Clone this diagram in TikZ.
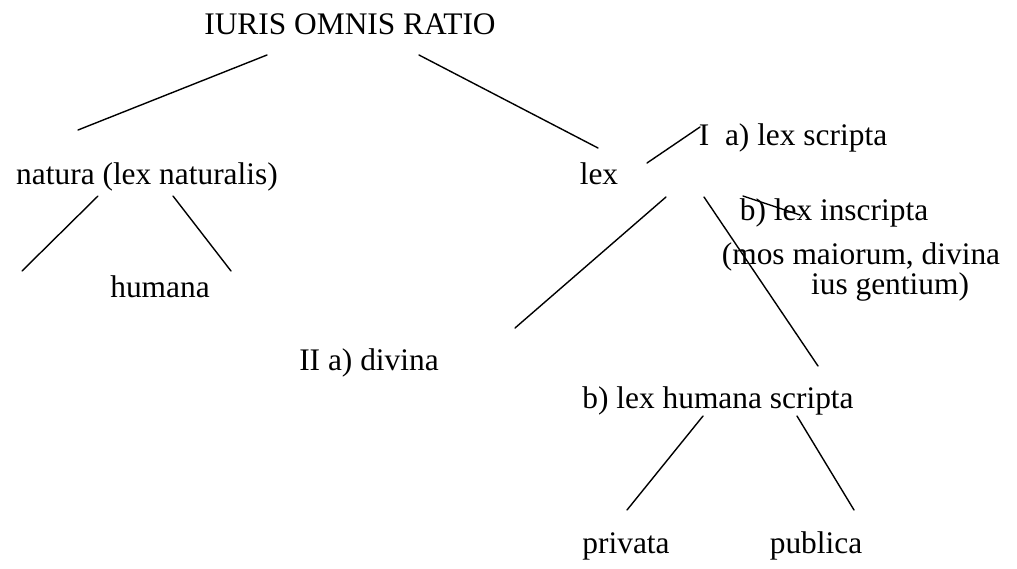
\documentclass[tikz,border=0pt]{standalone}
\usepackage{fontspec}
\setmainfont{Liberation Serif}
\usepackage{tikz}
\usetikzlibrary{positioning,calc}

\begin{document}
\begin{tikzpicture}[
  x=0.5pt, y=-0.5pt,
  lbl/.style={inner sep=0pt, outer sep=0pt, anchor=base, font=\fontsize{15.7}{19}\selectfont},
  branch/.style={line width=0.7pt, line cap=round},
]
\useasboundingbox (0,0) rectangle (1017,568);

% --- root ---
\node[lbl] (root) at (350,34) {IURIS OMNIS RATIO};

% --- natura branch ---
\node[lbl] (natura) at (147,184) {natura (lex naturalis)};
\node[lbl] (humana) at (160,297) {humana};
\coordinate (natleft) at (22,271);

% --- lex branch ---
\node[lbl] (lex) at (599,184) {lex};
\node[lbl] (scripta) at (793,145) {I\ \ a) lex scripta};
\node[lbl] (inscr) at (834,220) {b) lex inscripta};
\node[lbl] (mos) at (861,264) {(mos maiorum, divina};
\node[lbl] (ius) at (890,294) {ius gentium)};
\node[lbl] (divina) at (369,370) {II a) divina};
\node[lbl] (humscr) at (718,408) {b) lex humana scripta};
\node[lbl] (privata) at (626,553) {privata};
\node[lbl] (publica) at (816,553) {publica};

% --- connectors ---
\draw[branch] ([shift={(-83,21)}]root.base) -- ([shift={(-69,-54)}]natura.base);
\draw[branch] ([shift={(69,21)}]root.base) -- ([shift={(-1,-36)}]lex.base);
\draw[branch] ([shift={(-49,12)}]natura.base) -- (natleft);
\draw[branch] ([shift={(26,12)}]natura.base) -- ([shift={(71,-26)}]humana.base);
\draw[branch] ([shift={(48,-21)}]lex.base) -- ([shift={(-93,-18)}]scripta.base);
\draw[branch] ([shift={(67,13)}]lex.base) -- ([shift={(146,-42)}]divina.base);
\draw[branch] ([shift={(105,13)}]lex.base) -- ([shift={(100,-42)}]humscr.base);
\draw[branch] ([shift={(-91,-24)}]inscr.base) -- ([shift={(-34,-5)}]inscr.base);
\draw[branch] ([shift={(-15,8)}]humscr.base) -- ([shift={(1,-43)}]privata.base);
\draw[branch] ([shift={(79,8)}]humscr.base) -- ([shift={(38,-43)}]publica.base);
\end{tikzpicture}
\end{document}
